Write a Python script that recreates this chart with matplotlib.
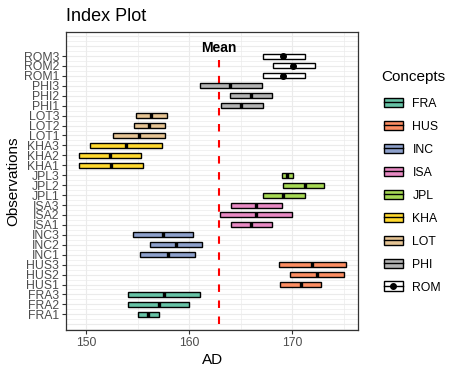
import numpy as np
import matplotlib.pyplot as plt
from matplotlib.patches import Patch
from matplotlib.lines import Line2D
from matplotlib.legend_handler import HandlerTuple

plt.rcParams['font.family'] = ['Liberation Sans', 'DejaVu Sans']

# data (bottom to top)
concepts = ["FRA", "HUS", "INC", "ISA", "JPL", "KHA", "LOT", "PHI", "ROM"]
colors = ["#66C2A5", "#FC8D62", "#8DA0CB", "#E78AC3", "#A6D854",
          "#FFD92F", "#E5C494", "#B3B3B3", "#FFFFFF"]
labels = [c + str(k) for c in concepts for k in (1, 2, 3)]
low = [155.0, 154.0, 154.0,
       168.8, 169.8, 168.7,
       155.2, 156.2, 154.5,
       164.0, 163.0, 164.0,
       167.1, 169.1, 169.0,
       149.3, 149.3, 150.3,
       152.6, 154.6, 154.8,
       163.1, 163.9, 161.0,
       167.1, 168.1, 167.1]
mid = [156.0, 157.0, 157.5,
       170.8, 172.4, 171.9,
       157.9, 158.7, 157.4,
       166.0, 166.5, 166.5,
       169.1, 171.2, 169.5,
       152.4, 152.3, 153.8,
       155.1, 156.1, 156.3,
       165.0, 166.0, 163.9,
       169.1, 170.1, 169.1]
high = [157.0, 160.0, 161.0,
        172.8, 175.0, 175.2,
        160.5, 161.2, 160.3,
        168.0, 170.0, 169.0,
        171.2, 173.1, 170.1,
        155.5, 155.3, 157.3,
        157.6, 157.6, 157.8,
        167.1, 168.0, 167.0,
        171.2, 172.2, 171.2]

low = np.array(low)
mid = np.array(mid)
high = np.array(high)
ypos = np.arange(1, len(labels) + 1)
bar_colors = [colors[i // 3] for i in range(len(labels))]
mean_val = mid.mean()

fig = plt.figure(figsize=(4.58, 3.75), dpi=100)
ax = fig.add_axes([0.1448, 0.12, 0.6375, 0.7947])

# grid
for g in np.arange(-0.5, 29.5, 0.5):
    ax.axhline(g, color="#EBEBEB", lw=0.8 if g % 1 == 0 else 0.5, zorder=0)
for g in [150, 160, 170]:
    ax.axvline(g, color="#EBEBEB", lw=0.8, zorder=0)
for g in [155, 165, 175]:
    ax.axvline(g, color="#EBEBEB", lw=0.5, zorder=0)

ax.barh(ypos, high - low, left=low, height=0.5, color=bar_colors,
        edgecolor="black", linewidth=1.0, zorder=3)
ax.vlines(mid, ypos - 0.25, ypos + 0.25, color="black", lw=2.4, zorder=4)
rom = slice(24, 27)
ax.plot(mid[rom], ypos[rom], "o", color="black", markersize=4, zorder=5)

ax.plot([mean_val, mean_val], [0, 26.6], color="red", lw=1.5,
        dashes=(3.6, 4.1), zorder=2)
ax.text(mean_val, 27.8, "Mean", ha="center", va="center",
        fontsize=10, fontweight="bold", color="black")

ax.set_xlim(148.04, 176.4)
ax.set_ylim(-0.58, 29.42)
ax.set_xticks([150, 160, 170])
ax.set_yticks(ypos)
ax.set_yticklabels(labels)
ax.tick_params(colors="#333333", labelcolor="#4D4D4D", labelsize=8.8,
               length=3, width=0.8, pad=2)
for s in ax.spines.values():
    s.set_color("#333333")
    s.set_linewidth(0.9)

ax.set_xlabel("AD", fontsize=11, labelpad=3)
ax.set_ylabel("Observations", fontsize=11, labelpad=3)
fig.text(0.144, 0.955, "Index Plot", fontsize=13, ha="left", va="center")

# legend
fig.text(381 / 458, 1 - 77 / 375, "Concepts", fontsize=11,
         ha="left", va="center")
handles = []
for i, c in enumerate(concepts):
    box = Patch(facecolor=colors[i], edgecolor="black", linewidth=1.0)
    if c == "ROM":
        ln = Line2D([], [], color="black", lw=1.0, marker="o", markersize=4)
    else:
        ln = Line2D([], [], color="black", lw=1.0)
    handles.append((box, ln))
leg = fig.legend(handles, concepts,
                 handler_map={tuple: HandlerTuple(ndivide=1)},
                 loc="upper left", bbox_to_anchor=(0.815, 0.769),
                 frameon=False, fontsize=8.8,
                 handlelength=1.5, handleheight=0.85, labelspacing=0.89,
                 handletextpad=0.8)

fig.savefig("out.png", dpi=100)
